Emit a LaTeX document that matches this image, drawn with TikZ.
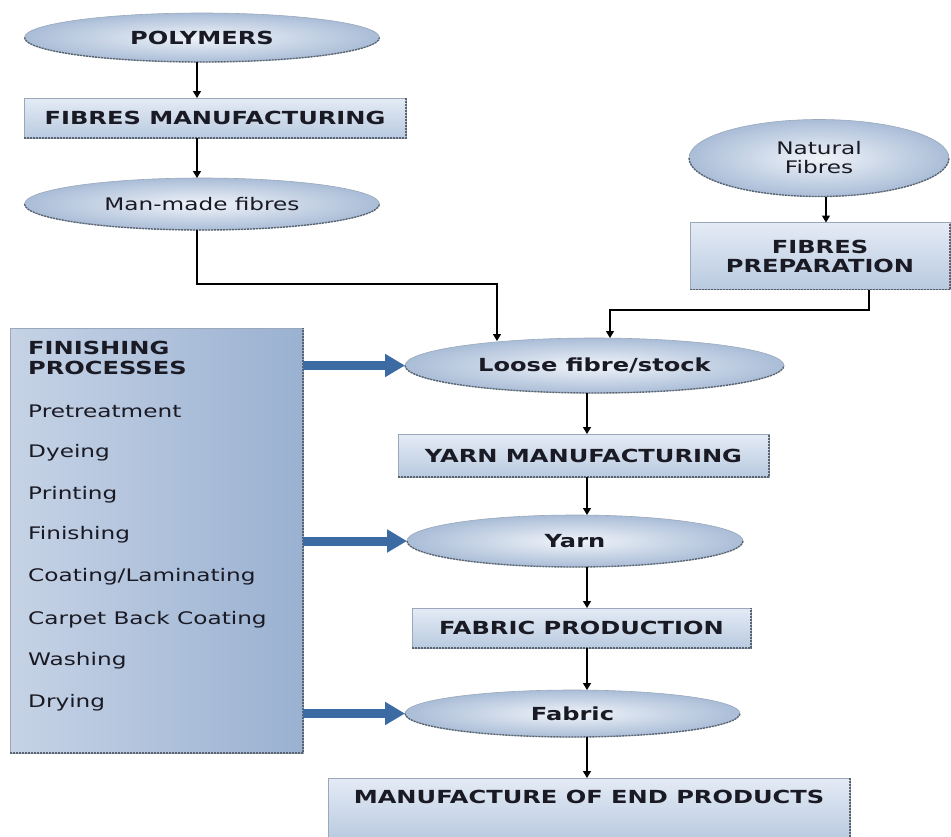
\documentclass[tikz,border=0pt]{standalone}
\usepackage{fontspec}
\setmainfont{DejaVu Sans}[FakeStretch=1.34]
\usetikzlibrary{arrows.meta,calc,shapes.geometric}
\definecolor{ellin}{HTML}{F0F4FA}
\definecolor{ellout}{HTML}{AABDD7}
\definecolor{recttop}{HTML}{E4EBF5}
\definecolor{rectbot}{HTML}{B9CAE0}
\definecolor{finl}{HTML}{C6D3E6}
\definecolor{finm}{HTML}{E4EAF4}
\definecolor{finr}{HTML}{9AB1D1}
\definecolor{bigarrow}{HTML}{3C6AA3}
\definecolor{edge}{HTML}{9AA8BC}
\definecolor{shdcol}{HTML}{5A6470}
\definecolor{txt}{HTML}{1A1A24}
\tikzset{
  ellbox/.style={ellipse, inner sep=0pt, outer sep=0pt, draw=edge, line width=0.6pt,
     inner color=ellin, outer color=ellout, text=txt, align=center},
  rectbox/.style={rectangle, inner sep=0pt, outer sep=0pt, draw=edge, line width=0.6pt,
     top color=recttop, bottom color=rectbot, text=txt, align=center},
  shd/.style={draw=shdcol, line width=1.4pt, dash pattern=on 2pt off 1pt},
  arr/.style={draw=black, line width=1.3pt, -{Triangle[length=7pt,width=8pt]}},
  fat/.style={draw=bigarrow, line width=9pt, -{Triangle[length=20pt,width=22pt]}},
  bl/.style={font=\fontsize{18}{20}\selectfont\bfseries},
  rg/.style={font=\fontsize{17.3}{20}\selectfont},
  lst/.style={anchor=west, text=txt, inner sep=0pt},
}
\newcommand\ellnode[7]{%
  \node[ellbox, #7, minimum width=#4pt, minimum height=#5pt] (#1) at (#2,#3) {#6};
  \draw[shd] (#1.west) arc[start angle=180, end angle=360, x radius=#4pt/2, y radius=#5pt/2];
}
\newcommand\rectnode[7]{%
  \node[rectbox, #7, minimum width=#4pt, minimum height=#5pt] (#1) at (#2,#3) {#6};
  \draw[shd] (#1.south west) -- (#1.south east) -- (#1.north east);
}
\begin{document}
\begin{tikzpicture}[x=1pt,y=-1pt]
\useasboundingbox[fill=white] (0,0) rectangle (951,836);
% columns
\coordinate (xa) at (197,0);
\coordinate (xn) at (826,0);
\coordinate (xc) at (587,0);
\coordinate (m1) at (197,284);
\coordinate (m2) at (497,284);
\coordinate (f1) at (869,310);
\coordinate (f2) at (610,310);
% left column
\ellnode{poly}{202}{37.5}{355}{49}{POLYMERS}{bl}
\rectnode{fm}{215}{118}{382}{40}{FIBRES MANUFACTURING}{bl}
\ellnode{mmf}{202}{204}{355}{52}{Man-made fibres}{rg}
% right column
\ellnode{nat}{819}{158}{260}{77}{Natural\\[-1pt]Fibres}{rg}
\rectnode{fp}{820}{256}{260}{67}{FIBRES\\[-1pt]PREPARATION}{bl}
% main chain
\ellnode{loose}{594.5}{365.5}{379}{55}{Loose fibre/stock}{bl}
\rectnode{ym}{583.5}{455.5}{371}{43}{YARN MANUFACTURING}{bl}
\ellnode{yarn}{575}{541}{336}{52}{Yarn}{bl}
\rectnode{fprod}{581.5}{628}{339}{40}{FABRIC PRODUCTION}{bl}
\ellnode{fabric}{572.5}{713.5}{335}{47}{Fabric}{bl}
\node[rectbox, anchor=north west, minimum width=522pt, minimum height=62pt] (mep) at (328,778) {};
\draw[shd] (mep.north east) -- (mep.south east);
\node[bl, text=txt, inner sep=0pt] (meptxt) at (589,797) {MANUFACTURE OF END PRODUCTS};
% finishing box
\node[rectangle, anchor=north west, minimum width=293pt, minimum height=425pt, inner sep=0pt, outer sep=0pt,
  draw=edge, line width=0.6pt, left color=finl, middle color=finm, right color=finr] (fin) at (10,328) {};
\draw[shd] (fin.south west) -- (fin.south east) -- (fin.north east);
\node[lst, bl] (f0) at (28,348) {FINISHING};
\node[lst, bl] (f00) at (28,368) {PROCESSES};
\node[lst, rg] (f1t) at (28,411) {Pretreatment};
\node[lst, rg] (f2t) at (28,453) {Dyeing};
\node[lst, rg] (f3t) at (28,495) {Printing};
\node[lst, rg] (f4t) at (28,535) {Finishing};
\node[lst, rg] (f5t) at (28,577) {Coating/Laminating};
\node[lst, rg] (f6t) at (28,620) {Carpet Back Coating};
\node[lst, rg] (f7t) at (28,661) {Washing};
\node[lst, rg] (f8t) at (28,703) {Drying};
% connectors
\draw[arr] (poly.south -| xa) -- (fm.north -| xa);
\draw[arr] (fm.south -| xa) -- (mmf.north -| xa);
\draw[arr] (mmf.south -| m1) -- (m1) -- (m2) -- ($(loose.north -| m2)+(0,3)$);
\draw[arr] (nat.south -| xn) -- (fp.north -| xn);
\draw[arr] (fp.south -| f1) -- (f1) -- (f2) -- (loose.north -| f2);
\draw[arr] (loose.south -| xc) -- (ym.north -| xc);
\draw[arr] (ym.south -| xc) -- (yarn.north -| xc);
\draw[arr] (yarn.south -| xc) -- (fprod.north -| xc);
\draw[arr] (fprod.south -| xc) -- (fabric.north -| xc);
\draw[arr] (fabric.south -| xc) -- (mep.north -| xc);
\draw[fat] (fin.east |- loose) -- (loose.west);
\draw[fat] (fin.east |- yarn) -- (yarn.west);
\draw[fat] (fin.east |- fabric) -- (fabric.west);
\end{tikzpicture}
\end{document}
